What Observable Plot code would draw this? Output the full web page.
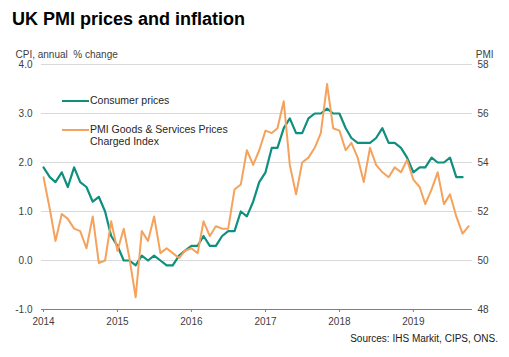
<!DOCTYPE html>
<html><head><meta charset="utf-8">
<script src="https://cdn.jsdelivr.net/npm/d3@7"></script>
<script src="https://cdn.jsdelivr.net/npm/@observablehq/plot@0.6"></script>
<style>
body{margin:0;background:#fff;font-family:"Liberation Sans",Arial,sans-serif;}
#wrap{position:relative;width:509px;height:357px;overflow:hidden;background:#fff}
#title{position:absolute;left:12px;top:10px;font-size:18px;line-height:18px;font-weight:bold;color:#000;white-space:nowrap}
#chart{position:absolute;left:0;top:40px}
.legline{position:absolute;height:2px;width:27px}
.legtxt{position:absolute;font-size:10.5px;line-height:11.5px;color:#262626;white-space:nowrap}
#source{position:absolute;right:11px;top:333px;font-size:10px;line-height:12px;color:#1a1a1a;white-space:nowrap}
</style></head><body>
<div id="wrap">
<div id="title">UK PMI prices and inflation</div>
<div id="chart"></div>
<div class="legline" id="l1" style="left:62px;top:100px"></div>
<div class="legtxt" style="left:90px;top:95px">Consumer prices</div>
<div class="legline" id="l2" style="left:62px;top:129px"></div>
<div class="legtxt" style="left:90px;top:124px">PMI Goods &amp; Services Prices<br>Charged Index</div>
<div id="source">Sources: IHS Markit, CIPS, ONS.</div>
</div>
<script>
// Monthly series, starting January 2014
const startYear = 2014;
const cpi = [
  1.9,1.7,1.6,1.8,1.5,1.9,1.6,1.5,1.2,1.3,1.0,0.5,
  0.3,0.0,0.0,-0.1,0.1,0.0,0.1,0.0,-0.1,-0.1,0.1,0.2,
  0.3,0.3,0.5,0.3,0.3,0.5,0.6,0.6,1.0,0.9,1.2,1.6,
  1.8,2.3,2.3,2.7,2.9,2.6,2.6,2.9,3.0,3.0,3.1,3.0,
  3.0,2.7,2.5,2.4,2.4,2.4,2.5,2.7,2.4,2.4,2.3,2.1,
  1.8,1.9,1.9,2.1,2.0,2.0,2.1,1.7,1.7
];
const pmi = [
  53.4,52.1,50.8,51.9,51.7,51.3,51.2,50.5,51.8,49.9,50.0,51.6,
  50.4,51.3,50.1,48.5,51.2,50.8,51.8,50.3,50.5,50.3,50.1,50.4,
  50.5,50.3,51.6,51.0,51.4,51.3,51.3,52.9,53.1,54.5,53.9,54.5,
  55.3,55.2,55.4,56.5,53.9,52.7,54.0,54.2,54.6,55.2,57.2,55.4,
  55.3,54.5,54.8,54.2,53.2,54.6,53.9,53.6,53.4,53.8,53.6,54.1,
  53.3,53.0,52.3,52.9,53.6,52.3,52.7,51.8,51.1,51.4
];
const yearTicks = [2014,2015,2016,2017,2018,2019];
const cpiTicks = [-1,0,1,2,3,4];
const pmiTicks = [48,50,52,54,56,58];
const seriesNames = ["Consumer prices","PMI Goods & Services Prices Charged Index"];
const colors = ["#0f8f7e","#f4a25c"];

document.getElementById("l1").style.background = colors[0];
document.getElementById("l2").style.background = colors[1];

const start = new Date(Date.UTC(startYear,0,1));
const cpiRows = cpi.map((v,i)=>({date: d3.utcMonth.offset(start,i), value: v}));
const pmiRows = pmi.map((v,i)=>({date: d3.utcMonth.offset(start,i), value: v}));
const pmiToCpi = p => (p - 50) / 2;

const chart = Plot.plot({
  width: 509, height: 317,
  marginLeft: 41, marginRight: 37, marginTop: 24, marginBottom: 48,
  style: {fontFamily: "'Liberation Sans', Arial, sans-serif", fontSize: "10px", color: "#404040", background: "#fff"},
  x: {type: "utc", domain: [new Date("2013-12-22"), new Date("2019-10-20")]},
  y: {domain: [-1, 4]},
  marks: [
    Plot.ruleY(cpiTicks.filter(d => d > -1), {stroke: "#d9d9d9", strokeWidth: 1}),
    Plot.ruleY([cpiTicks[0]], {stroke: "#7f7f7f", strokeWidth: 1}),
    Plot.axisX({ticks: yearTicks.map(y => new Date(Date.UTC(y,0,1))), tickFormat: d3.utcFormat("%Y"),
      tickSize: 3, tickPadding: 5, stroke: "#7f7f7f", fill: "#404040", label: null}),
    Plot.axisY({anchor: "left", ticks: cpiTicks, tickSize: 0, tickPadding: 9,
      tickFormat: d => d.toFixed(1), fill: "#404040", label: null}),
    Plot.axisY({anchor: "right", ticks: pmiTicks.map(pmiToCpi), tickSize: 0, tickPadding: 5,
      tickFormat: d => String(Math.round(50 + 2*d)), fill: "#404040", label: null}),
    Plot.text(["CPI, annual  % change"], {text: d => d, frameAnchor: "top-left", dx: -26, dy: -14, textAnchor: "start", fill: "#404040", fontSize: 10}),
    Plot.text(["PMI"], {text: d => d, frameAnchor: "top-right", dx: 21, dy: -14, textAnchor: "end", fill: "#404040", fontSize: 10}),
    Plot.line(cpiRows, {x: "date", y: "value", stroke: colors[0], strokeWidth: 2.2}),
    Plot.line(pmiRows, {x: "date", y: d => pmiToCpi(d.value), stroke: colors[1], strokeWidth: 2})
  ]
});
document.getElementById("chart").appendChild(chart);
</script>
</body></html>
